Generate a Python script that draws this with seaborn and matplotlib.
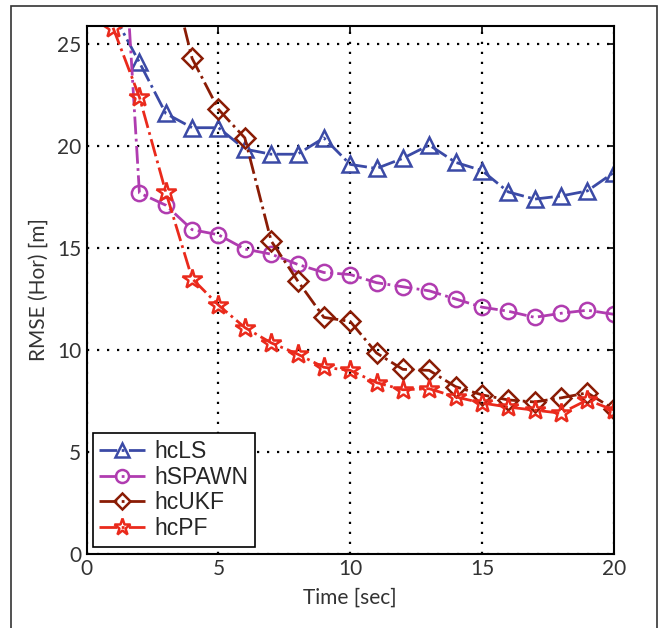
import matplotlib
matplotlib.use("Agg")
import matplotlib.pyplot as plt
import seaborn as sns
import pandas as pd
import numpy as np
from matplotlib.patches import Rectangle

time = list(range(1, 21))
hcLS = [26.5, 24.1, 21.6, 20.9, 20.9, 19.85, 19.6, 19.6, 20.4, 19.1,
        18.9, 19.4, 20.05, 19.2, 18.8, 17.75, 17.4, 17.55, 17.8, 18.7]
hSPAWN = [39.0, 17.7, 17.1, 15.9, 15.65, 14.95, 14.7, 14.2, 13.8, 13.7,
          13.3, 13.1, 12.9, 12.5, 12.1, 11.9, 11.6, 11.8, 11.95, 11.75]
hcUKF = [36.0, 33.0, 29.5, 24.3, 21.8, 20.4, 15.35, 13.4, 11.6, 11.4,
         9.85, 9.05, 9.0, 8.2, 7.8, 7.55, 7.45, 7.65, 7.9, 7.1]
hcPF = [25.8, 22.4, 17.75, 13.5, 12.2, 11.1, 10.35, 9.8, 9.15, 9.0,
        8.4, 8.05, 8.1, 7.7, 7.4, 7.2, 7.05, 6.9, 7.55, 7.05]

series_names = ["hcLS", "hSPAWN", "hcUKF", "hcPF"]
series_vals = [hcLS, hSPAWN, hcUKF, hcPF]
colors = ["#3b4aa6", "#b03cb0", "#8a1c05", "#ea2a1c"]
markers = ["^", "o", "D", "*"]
msizes = [12, 11, 10, 15]

xticks = [0, 5, 10, 15, 20]
yticks = [0, 5, 10, 15, 20, 25]

sns.set_style("white")
plt.rcParams["font.family"] = ["Lato", "DejaVu Sans"]

fig = plt.figure(figsize=(6.62, 6.28), dpi=100)
ax = fig.add_axes([0.131, 0.118, 0.796, 0.841])

df = pd.DataFrame({"Time": time * 4,
                   "RMSE": sum(series_vals, []),
                   "Method": sum([[n] * len(time) for n in series_names], [])})

for name, c, m, ms in zip(series_names, colors, markers, msizes):
    sub = df[df["Method"] == name]
    sns.lineplot(data=sub, x="Time", y="RMSE", ax=ax, color=c, marker=m,
                 markersize=ms, markerfacecolor="none", markeredgecolor=c,
                 markeredgewidth=1.8, linewidth=2.0, linestyle="-.",
                 label=name, clip_on=True)

ax.set_xlim(0, 20)
ax.set_ylim(0, 25.9)
ax.set_xticks(xticks)
ax.set_yticks(yticks)
ax.grid(True, color="black", linestyle=(0, (1, 3.5)), linewidth=1.6)
ax.tick_params(direction="in", length=5, width=1.2, top=True, right=True,
               labelsize=15, labelcolor="#333333", colors="black", pad=4)
for s in ax.spines.values():
    s.set_color("black")
    s.set_linewidth(1.5)
ax.set_xlabel("Time [sec]", fontsize=15, color="#333333", labelpad=6)
ax.set_ylabel("RMSE (Hor) [m]", fontsize=15, color="#333333", labelpad=6)

leg = ax.legend(loc="lower left", bbox_to_anchor=(0.011, 0.013), borderaxespad=0,
                fancybox=False, framealpha=1, edgecolor="black",
                prop={"family": ["Liberation Sans", "DejaVu Sans"], "size": 16.5},
                handlelength=2.0, handletextpad=0.4, labelspacing=0.12,
                borderpad=0.3, markerscale=0.85)
leg.get_frame().set_linewidth(1.2)

fig.patches.append(Rectangle((11 / 662, -0.1), (657 - 11) / 662, 1.1 - 6 / 628,
                             transform=fig.transFigure, fill=False,
                             edgecolor="#333333", linewidth=1.2))

fig.savefig("out.png", dpi=100)
